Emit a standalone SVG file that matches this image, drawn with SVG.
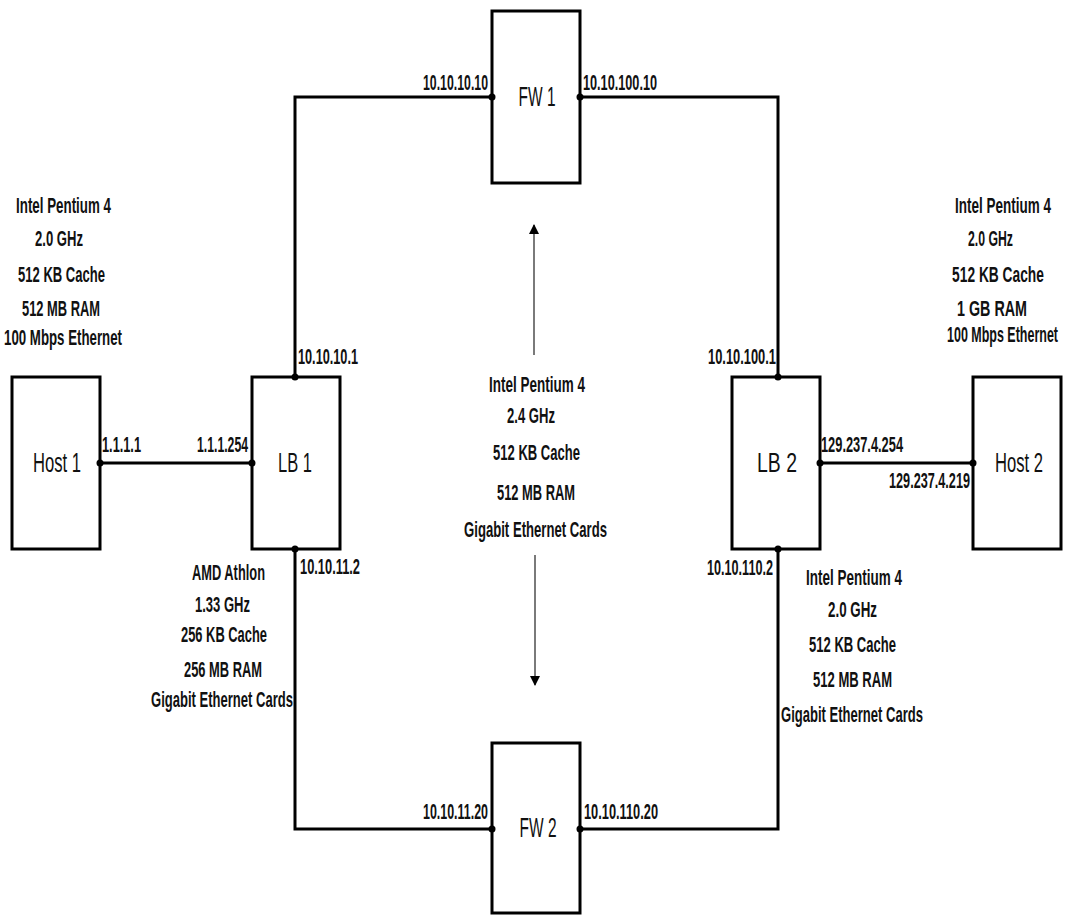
<svg xmlns="http://www.w3.org/2000/svg" width="1067" height="916" viewBox="0 0 1067 916">
<style>
.box{fill:#fff;stroke:#000;stroke-width:3}
.wire{fill:none;stroke:#000;stroke-width:3}
.dot{fill:#000}
text{font-family:"Liberation Sans",Arial,sans-serif;fill:#111;text-anchor:middle}
.s text{font-size:22px;font-weight:bold}
.n{font-size:27px}
.arr{stroke:#7a7a7a;stroke-width:2;fill:none}
</style>
<defs>
<marker id="ah" viewBox="0 0 10 10" refX="9" refY="5" markerWidth="10" markerHeight="10" markerUnits="userSpaceOnUse" orient="auto">
<path d="M0,0 L10,5 L0,10 z" fill="#000"/>
</marker>
</defs>
<rect width="1067" height="916" fill="#fff"/>
<g id="connectors">
<path class="wire" d="M295,377 V97 H492"/>
<path class="wire" d="M580,97 H778 V377"/>
<path class="wire" d="M295,549 V829 H492"/>
<path class="wire" d="M580,829 H778 V549"/>
<path class="wire" d="M100,463 H252"/>
<path class="wire" d="M820,463 H973"/>
<line class="arr" x1="534" y1="355" x2="534" y2="225" marker-end="url(#ah)"/>
<line class="arr" x1="535" y1="555" x2="535" y2="685" marker-end="url(#ah)"/>
</g>
<g id="fw1">
<rect class="box" x="492" y="11" width="88" height="172"/>
<text class="n" transform="translate(537,106) scale(0.75,1)" textLength="49.3" lengthAdjust="spacingAndGlyphs">FW 1</text>
</g>
<g id="fw2">
<rect class="box" x="492" y="743" width="88" height="170"/>
<text class="n" transform="translate(538,837) scale(0.75,1)" textLength="49.3" lengthAdjust="spacingAndGlyphs">FW 2</text>
</g>
<g id="host1">
<rect class="box" x="12" y="377" width="88" height="172"/>
<text class="n" transform="translate(57,472) scale(0.75,1)" textLength="64" lengthAdjust="spacingAndGlyphs">Host 1</text>
</g>
<g id="lb1">
<rect class="box" x="252" y="377" width="88" height="172"/>
<text class="n" transform="translate(295,472) scale(0.75,1)" textLength="45.3" lengthAdjust="spacingAndGlyphs">LB 1</text>
</g>
<g id="lb2">
<rect class="box" x="732" y="377" width="88" height="172"/>
<text class="n" transform="translate(777,472) scale(0.75,1)" textLength="53.3" lengthAdjust="spacingAndGlyphs">LB 2</text>
</g>
<g id="host2">
<rect class="box" x="973" y="377" width="88" height="172"/>
<text class="n" transform="translate(1019,472) scale(0.75,1)" textLength="64" lengthAdjust="spacingAndGlyphs">Host 2</text>
</g>
<g id="ports">
<circle class="dot" cx="492" cy="97" r="3.5"/>
<circle class="dot" cx="580" cy="97" r="3.5"/>
<circle class="dot" cx="295" cy="377" r="3.5"/>
<circle class="dot" cx="295" cy="549" r="3.5"/>
<circle class="dot" cx="778" cy="377" r="3.5"/>
<circle class="dot" cx="778" cy="549" r="3.5"/>
<circle class="dot" cx="100" cy="463" r="3.5"/>
<circle class="dot" cx="252" cy="463" r="3.5"/>
<circle class="dot" cx="820" cy="463" r="3.5"/>
<circle class="dot" cx="973" cy="463" r="3.5"/>
<circle class="dot" cx="492" cy="829" r="3.5"/>
<circle class="dot" cx="580" cy="829" r="3.5"/>
</g>
<g id="ip-labels" class="s">
<text transform="translate(455.5,90) scale(0.62,1)" textLength="104.8" lengthAdjust="spacingAndGlyphs">10.10.10.10</text>
<text transform="translate(620,90) scale(0.62,1)" textLength="119.4" lengthAdjust="spacingAndGlyphs">10.10.100.10</text>
<text transform="translate(121.5,452) scale(0.62,1)" textLength="62.9" lengthAdjust="spacingAndGlyphs">1.1.1.1</text>
<text transform="translate(222.5,452) scale(0.62,1)" textLength="82.3" lengthAdjust="spacingAndGlyphs">1.1.1.254</text>
<text transform="translate(328,364) scale(0.62,1)" textLength="96.8" lengthAdjust="spacingAndGlyphs">10.10.10.1</text>
<text transform="translate(330,574) scale(0.62,1)" textLength="96.8" lengthAdjust="spacingAndGlyphs">10.10.11.2</text>
<text transform="translate(742,364) scale(0.62,1)" textLength="109.7" lengthAdjust="spacingAndGlyphs">10.10.100.1</text>
<text transform="translate(740,575) scale(0.62,1)" textLength="106.5" lengthAdjust="spacingAndGlyphs">10.10.110.2</text>
<text transform="translate(862,452) scale(0.62,1)" textLength="132.3" lengthAdjust="spacingAndGlyphs">129.237.4.254</text>
<text transform="translate(929.5,488) scale(0.62,1)" textLength="130.6" lengthAdjust="spacingAndGlyphs">129.237.4.219</text>
<text transform="translate(455.5,819) scale(0.62,1)" textLength="104.8" lengthAdjust="spacingAndGlyphs">10.10.11.20</text>
<text transform="translate(621,819) scale(0.62,1)" textLength="119.4" lengthAdjust="spacingAndGlyphs">10.10.110.20</text>
</g>
<g id="spec-host1" class="s">
<text transform="translate(63.5,213) scale(0.62,1)" textLength="153.2" lengthAdjust="spacingAndGlyphs">Intel Pentium 4</text>
<text transform="translate(59,246) scale(0.62,1)" textLength="77.4" lengthAdjust="spacingAndGlyphs">2.0 GHz</text>
<text transform="translate(61.5,282) scale(0.62,1)" textLength="140.3" lengthAdjust="spacingAndGlyphs">512 KB Cache</text>
<text transform="translate(61,316) scale(0.62,1)" textLength="125.8" lengthAdjust="spacingAndGlyphs">512 MB RAM</text>
<text transform="translate(63,345) scale(0.62,1)" textLength="190.3" lengthAdjust="spacingAndGlyphs">100 Mbps Ethernet</text>
</g>
<g id="spec-host2" class="s">
<text transform="translate(1003,213) scale(0.62,1)" textLength="154.8" lengthAdjust="spacingAndGlyphs">Intel Pentium 4</text>
<text transform="translate(990.5,246) scale(0.62,1)" textLength="72.6" lengthAdjust="spacingAndGlyphs">2.0 GHz</text>
<text transform="translate(998,282) scale(0.62,1)" textLength="148" lengthAdjust="spacingAndGlyphs">512 KB Cache</text>
<text transform="translate(992,316) scale(0.62,1)" textLength="112.9" lengthAdjust="spacingAndGlyphs">1 GB RAM</text>
<text transform="translate(1002.5,342) scale(0.62,1)" textLength="179" lengthAdjust="spacingAndGlyphs">100 Mbps Ethernet</text>
</g>
<g id="spec-fw" class="s">
<text transform="translate(537,392) scale(0.62,1)" textLength="154.8" lengthAdjust="spacingAndGlyphs">Intel Pentium 4</text>
<text transform="translate(531,423) scale(0.62,1)" textLength="77.4" lengthAdjust="spacingAndGlyphs">2.4 GHz</text>
<text transform="translate(536.5,460) scale(0.62,1)" textLength="140.3" lengthAdjust="spacingAndGlyphs">512 KB Cache</text>
<text transform="translate(536,500) scale(0.62,1)" textLength="125.8" lengthAdjust="spacingAndGlyphs">512 MB RAM</text>
<text transform="translate(535.5,537) scale(0.62,1)" textLength="230.6" lengthAdjust="spacingAndGlyphs">Gigabit Ethernet Cards</text>
</g>
<g id="spec-lb1" class="s">
<text transform="translate(228.5,580) scale(0.62,1)" textLength="117.7" lengthAdjust="spacingAndGlyphs">AMD Athlon</text>
<text transform="translate(222.5,612) scale(0.62,1)" textLength="88.7" lengthAdjust="spacingAndGlyphs">1.33 GHz</text>
<text transform="translate(224,642) scale(0.62,1)" textLength="138.7" lengthAdjust="spacingAndGlyphs">256 KB Cache</text>
<text transform="translate(223,677) scale(0.62,1)" textLength="125.8" lengthAdjust="spacingAndGlyphs">256 MB RAM</text>
<text transform="translate(222,707) scale(0.62,1)" textLength="229" lengthAdjust="spacingAndGlyphs">Gigabit Ethernet Cards</text>
</g>
<g id="spec-lb2" class="s">
<text transform="translate(854,585) scale(0.62,1)" textLength="154.8" lengthAdjust="spacingAndGlyphs">Intel Pentium 4</text>
<text transform="translate(852.5,617) scale(0.62,1)" textLength="79" lengthAdjust="spacingAndGlyphs">2.0 GHz</text>
<text transform="translate(852.5,652) scale(0.62,1)" textLength="140.3" lengthAdjust="spacingAndGlyphs">512 KB Cache</text>
<text transform="translate(852.5,687) scale(0.62,1)" textLength="127.4" lengthAdjust="spacingAndGlyphs">512 MB RAM</text>
<text transform="translate(852,722) scale(0.62,1)" textLength="229" lengthAdjust="spacingAndGlyphs">Gigabit Ethernet Cards</text>
</g>
</svg>
